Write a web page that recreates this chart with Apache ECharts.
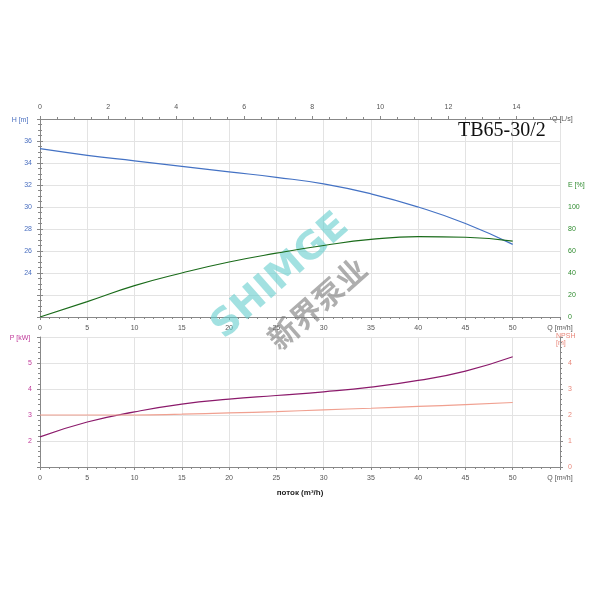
<!DOCTYPE html><html><head><meta charset="utf-8"><script src="https://cdn.jsdelivr.net/npm/echarts@6/dist/echarts.min.js"></script></head><body style="margin:0"><div id="c" style="width:600px;height:600px"></div><script>
const Q=[0,5,10,15,20,25,30,35,40,45,50];
const H=[35.3,34.7,34.2,33.7,33.2,32.7,32.1,31.2,30.0,28.5,26.6];
const E=[0,14,28.5,40,50,58,65,70.5,73,72.5,69];
const P=[2.16,2.73,3.12,3.42,3.61,3.75,3.89,4.07,4.33,4.69,5.24];
const NPSH=[2.0,2.0,2.0,2.03,2.08,2.13,2.2,2.26,2.33,2.4,2.48];
const pr=a=>Q.map((q,i)=>[q,a[i]]);
const lab={fontSize:7,fontFamily:'Arial'};
const ax={lineStyle:{color:'#888'}};
const gl={show:true,lineStyle:{color:'#e3e3e3'}};
const xb=(g,extra)=>Object.assign({type:'value',gridIndex:g,min:0,max:55,interval:5,axisLine:ax,axisTick:{show:true,length:3,lineStyle:{color:'#888'}},minorTick:{show:true,splitNumber:5,length:2},splitLine:gl,
 axisLabel:Object.assign({color:'#555',formatter:v=>v==55?'Q [m³/h]':v},lab)},extra||{});
const c=echarts.init(document.getElementById('c'));
c.setOption({animation:false,
grid:[{left:40,right:40,top:119,height:198},{left:40,right:40,top:337,height:130}],
xAxis:[xb(0),
 {type:'value',gridIndex:0,position:'top',min:0,max:55/3.6,interval:2,axisLine:ax,axisTick:{length:3},minorTick:{show:true,splitNumber:4,length:2},splitLine:{show:false},axisLabel:Object.assign({color:'#555',formatter:v=>v>14.5?'':v},lab),name:'Q [L/s]',nameGap:-8,nameTextStyle:{fontSize:7,color:'#555',padding:[0,0,14,0]}},
 xb(1,{name:'поток (m³/h)',nameLocation:'middle',nameGap:22,nameTextStyle:{fontSize:8,fontWeight:'bold',color:'#222'}})],
yAxis:[
 {type:'value',gridIndex:0,min:20,max:38,interval:2,axisLine:{show:true,lineStyle:{color:'#888'}},axisTick:{show:true,length:3},minorTick:{show:true,splitNumber:4,length:2},splitLine:gl,
  axisLabel:Object.assign({color:'#4a6fc0',formatter:v=>(v<24||v>36)?'':v},lab),name:'H [m]',nameLocation:'end',nameGap:-5,nameTextStyle:{fontSize:7,color:'#4a6fc0',padding:[0,40,0,0]}},
 {type:'value',gridIndex:0,position:'right',min:0,max:180,interval:20,axisLine:{show:true,lineStyle:{color:'#888'}},axisTick:{show:true,length:3},minorTick:{show:true,splitNumber:4,length:2},splitLine:{show:false},
  axisLabel:Object.assign({color:'#2e8b2e',formatter:v=>v==120?'E [%]':(v>100?'':v)},lab)},
 {type:'value',gridIndex:1,min:1,max:6,interval:1,axisLine:{show:true,lineStyle:{color:'#888'}},axisTick:{show:true,length:3},minorTick:{show:true,splitNumber:5,length:2},splitLine:gl,
  axisLabel:Object.assign({color:'#c0399a',formatter:v=>(v<2||v>5)?'':v},lab),name:'P [kW]',nameGap:-5,nameTextStyle:{fontSize:7,color:'#c0399a',padding:[0,40,0,0]}},
 {type:'value',gridIndex:1,position:'right',min:0,max:5,interval:1,axisLine:{show:true,lineStyle:{color:'#888'}},axisTick:{show:true,length:3},minorTick:{show:true,splitNumber:5,length:2},splitLine:{show:false},
  axisLabel:Object.assign({color:'#e8877a',formatter:v=>v>4?'':v},lab),name:'NPSH\n[m]',nameGap:-10,nameTextStyle:{fontSize:7,color:'#e8877a',align:'left',padding:[0,0,0,-4]}}],
series:[
 {type:'line',xAxisIndex:0,yAxisIndex:0,data:pr(H),smooth:true,showSymbol:false,lineStyle:{color:'#4472c4',width:1.2},z:3},
 {type:'line',xAxisIndex:0,yAxisIndex:1,data:pr(E),smooth:true,showSymbol:false,lineStyle:{color:'#1a6b1a',width:1.2},z:3},
 {type:'line',xAxisIndex:2,yAxisIndex:2,data:pr(P),smooth:true,showSymbol:false,lineStyle:{color:'#8b1a6b',width:1.2}},
 {type:'line',xAxisIndex:2,yAxisIndex:3,data:pr(NPSH),smooth:true,showSymbol:false,lineStyle:{color:'#f0a090',width:1.2}}],
graphic:[
 {type:'text',left:458,top:121,style:{text:'TB65-30/2',font:'20px "Liberation Serif"',fill:'#111'},z:10},
 {type:'text',x:205,y:318,rotation:Math.PI*0.23,style:{text:'SHIMGE',font:'bold 38px "DejaVu Sans"',fill:'rgba(100,205,205,0.6)'},z:1},
 {type:'text',x:262,y:332,rotation:Math.PI*0.23,style:{text:'新界泵业',font:'bold 30px "Noto Sans CJK SC"',fill:'rgba(120,120,120,0.6)'},z:1}]
});
</script></body></html>
